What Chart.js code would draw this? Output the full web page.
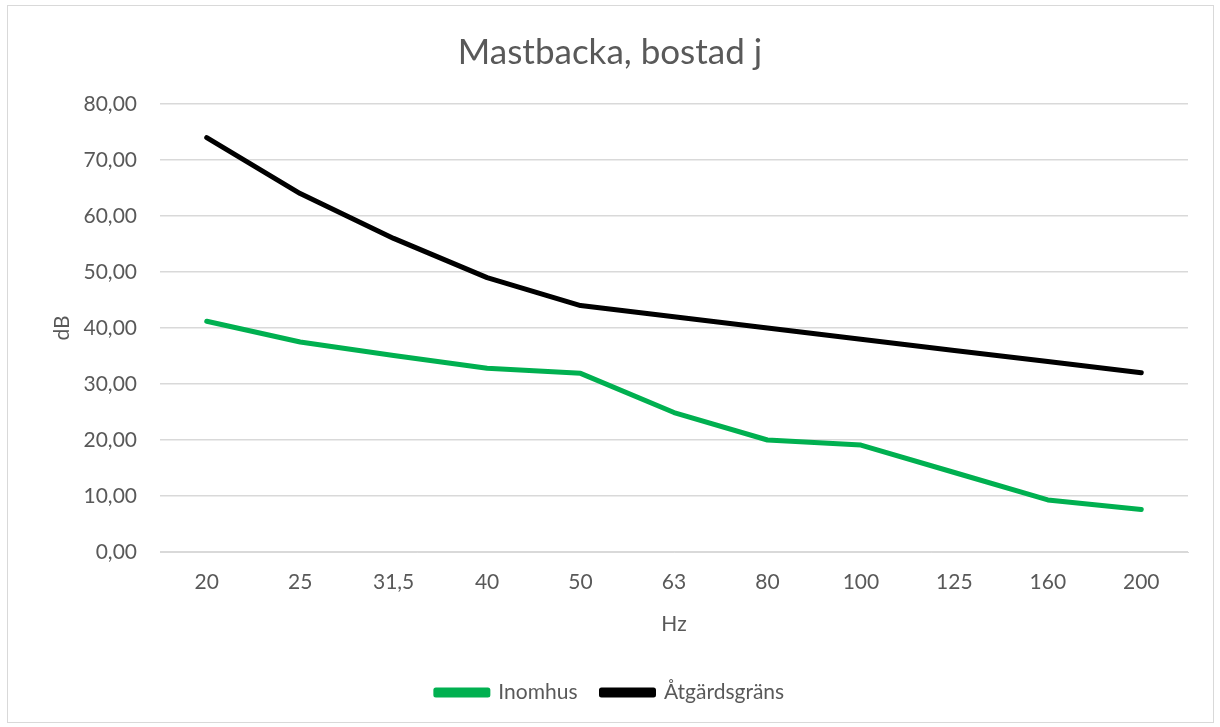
<!DOCTYPE html>
<html>
<head>
<meta charset="utf-8">
<script src="https://cdn.jsdelivr.net/npm/chart.js@4/dist/chart.umd.min.js"></script>
<style>
  body { margin: 0; background: #fff; }
  #wrap { position: relative; width: 1220px; height: 727px; }
  #frame { position: absolute; left: 7px; top: 5px; width: 1205px; height: 716px; border: 1px solid #d9d9d9; }
  canvas { position: absolute; left: 0; top: 0; }
</style>
</head>
<body>
<div id="wrap">
  <div id="frame"></div>
  <canvas id="myChart" width="1220" height="727"></canvas>
</div>
<script>
// frekvenser (Hz) och nivåer (dB)
const labels = ['20', '25', '31,5', '40', '50', '63', '80', '100', '125', '160', '200'];
const inomhus = [41.2, 37.5, 35.1, 32.8, 31.9, 24.9, 20.0, 19.1, 14.2, 9.3, 7.6];
const atgardsgrans = [74, 64, 56, 49, 44, 42, 40, 38, 36, 34, 32];
const yTicks = [0, 10, 20, 30, 40, 50, 60, 70, 80];

const textColor = '#595959';
const fontFamily = 'Lato, "Open Sans", sans-serif';

const ctx = document.getElementById('myChart').getContext('2d');

let myChart = new Chart(ctx, {
    type: 'line',
    data: {
        labels: labels,
        datasets: [{
            label: 'Inomhus',
            data: inomhus,
            borderColor: '#00b050',
            backgroundColor: '#00b050',
            borderWidth: 5,
            pointRadius: 0,
            borderJoinStyle: 'round',
            borderCapStyle: 'round'
        }, {
            label: 'Åtgärdsgräns',
            data: atgardsgrans,
            borderColor: '#000000',
            backgroundColor: '#000000',
            borderWidth: 5,
            pointRadius: 0,
            borderJoinStyle: 'round',
            borderCapStyle: 'round'
        }]
    },
    options: {
        responsive: false,
        animation: false,
        devicePixelRatio: 1,
        layout: { padding: { top: 32, right: 0, left: 0, bottom: 14 } },
        plugins: {
            title: {
                display: true,
                text: 'Mastbacka, bostad j',
                color: textColor,
                font: { family: fontFamily, size: 35, weight: 'normal', lineHeight: 1.2 },
                padding: { top: 0, bottom: 30 }
            },
            legend: {
                position: 'bottom',
                labels: {
                    color: textColor,
                    font: { family: fontFamily, size: 21 },
                    boxWidth: 52,
                    boxHeight: 5,
                    padding: 24
                }
            },
            tooltip: { enabled: false }
        },
        scales: {
            x: {
                offset: true,
                grid: { display: false },
                border: { display: true, color: '#d9d9d9' },
                ticks: { color: textColor, font: { family: fontFamily, size: 21 }, padding: 10, maxRotation: 0 },
                title: {
                    display: true,
                    text: 'Hz',
                    color: textColor,
                    font: { family: fontFamily, size: 21 },
                    padding: { top: 0, bottom: 21 }
                },
                afterFit: function (scale) { scale.height = 106; }
            },
            y: {
                min: 0,
                max: 80,
                afterBuildTicks: function (scale) {
                    scale.ticks = yTicks.map(v => ({ value: v }));
                },
                grid: { color: '#d9d9d9', lineWidth: 1.5, drawTicks: false },
                border: { display: false },
                ticks: {
                    color: textColor,
                    font: { family: fontFamily, size: 21 },
                    padding: 23,
                    callback: v => v.toFixed(2).replace('.', ',')
                },
                title: {
                    display: true,
                    text: 'dB',
                    color: textColor,
                    font: { family: fontFamily, size: 21 },
                    padding: { top: 50, bottom: 0 }
                },
                afterFit: function (scale) { scale.width = 160; }
            },
            // tom axel till höger, bara för marginalen
            yr: {
                position: 'right',
                grid: { display: false },
                border: { display: false },
                ticks: { display: false },
                afterFit: function (scale) { scale.width = 32; }
            }
        }
    }
});
</script>
</body>
</html>
